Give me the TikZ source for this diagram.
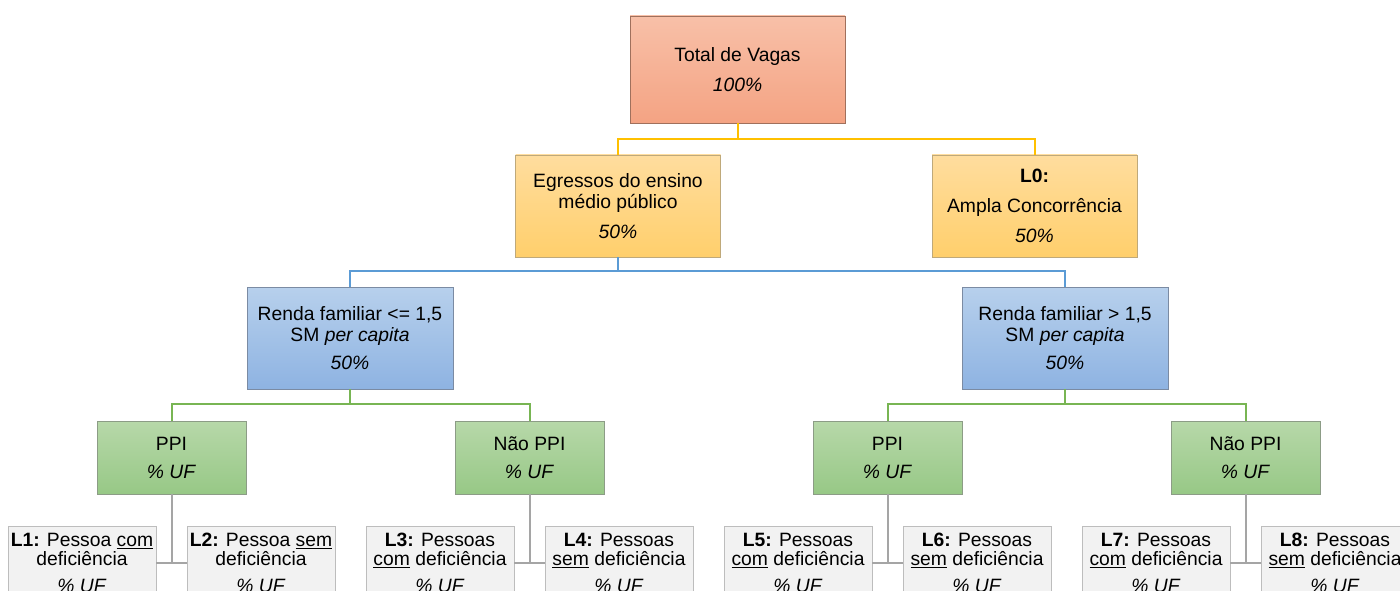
\documentclass[tikz,border=0pt]{standalone}
\usepackage{fontspec}
\setmainfont{Liberation Sans}
\usepackage{xcolor}
\definecolor{totTop}{HTML}{F8C0A8}
\definecolor{totBot}{HTML}{F4A383}
\definecolor{totLine}{HTML}{A0705C}
\definecolor{ylwTop}{HTML}{FFDD9E}
\definecolor{ylwBot}{HTML}{FFCF6C}
\definecolor{ylwLine}{HTML}{BFA97A}
\definecolor{bluTop}{HTML}{B7D0EC}
\definecolor{bluBot}{HTML}{8EB3E2}
\definecolor{bluLine}{HTML}{7B8BA3}
\definecolor{grnTop}{HTML}{B7D8A9}
\definecolor{grnBot}{HTML}{97C886}
\definecolor{grnLine}{HTML}{8C9C86}
\definecolor{leafFill}{HTML}{F2F2F2}
\definecolor{leafLine}{HTML}{BDBDBD}
\definecolor{conYlw}{HTML}{FFC000}
\definecolor{conBlu}{HTML}{5B9BD5}
\definecolor{conGrn}{HTML}{78B553}
\definecolor{conGry}{HTML}{A5A5A5}
\usepackage{tikz}
\usetikzlibrary{positioning, calc}

\begin{document}
\begin{tikzpicture}[
		x=1pt, y=-1pt,
		box/.style={draw, line width=0.8pt, align=center, inner sep=2pt,
			font=\fontsize{19.3}{21}\selectfont},
		totbox/.style={box, minimum width=215pt, minimum height=107pt,
			top color=totTop, bottom color=totBot, draw=totLine},
		ylwbox/.style={box, minimum width=205pt, minimum height=102pt,
			top color=ylwTop, bottom color=ylwBot, draw=ylwLine},
		blubox/.style={box, minimum width=206pt, minimum height=102pt,
			top color=bluTop, bottom color=bluBot, draw=bluLine},
		grnbox/.style={box, minimum width=149pt, minimum height=73pt,
			top color=grnTop, bottom color=grnBot, draw=grnLine},
		leafbox/.style={box, minimum width=148pt, minimum height=74pt,
			inner sep=1pt, fill=leafFill, draw=leafLine},
		con/.style={line width=2pt}
	]
	\clip (0,0) rectangle (1400,591);

	% ===== Level 1 and 2 =====
	\node[totbox] (tot) at (737.5,69.5) {Total de Vagas\\[9pt]\textit{100\%}};
	\node[ylwbox] (egr) at (618,206) {Egressos do ensino\\médio público\\[9pt]\textit{50\%}};
	\node[ylwbox] (amp) at (1034.5,206) {\textbf{L0:}\\[9pt]Ampla Concorrência\\[9pt]\textit{50\%}};
	\draw[con, conYlw] (tot.south) -- ++(0,16) -| (egr.north);
	\draw[con, conYlw] (tot.south) -- ++(0,16) -| (amp.north);

	% ===== Level 3: income =====
	\node[blubox] (rA) at (350,338) {Renda familiar <= 1,5\\SM \textit{per capita}\\[7pt]\textit{50\%}};
	\node[blubox] (rB) at (1065,338) {Renda familiar > 1,5\\SM \textit{per capita}\\[7pt]\textit{50\%}};
	\draw[con, conBlu] (egr.south) -- ++(0,14) -| (rA.north);
	\draw[con, conBlu] (egr.south) -- ++(0,14) -| (rB.north);

	% ===== Level 4: PPI split =====
	\node[grnbox] (pA)  at (171.5,457.5)  {PPI\\[7pt]\textit{\% UF}};
	\node[grnbox] (npA) at (529.5,457.5)  {Não PPI\\[7pt]\textit{\% UF}};
	\node[grnbox] (pB)  at (887.5,457.5)  {PPI\\[7pt]\textit{\% UF}};
	\node[grnbox] (npB) at (1245.5,457.5) {Não PPI\\[7pt]\textit{\% UF}};
	\foreach \r/\a/\b in {rA/pA/npA, rB/pB/npB} {
		\draw[con, conGrn] (\r.south) -- ++(0,15) -| (\a.north);
		\draw[con, conGrn] (\r.south) -- ++(0,15) -| (\b.north);
	}

	% ===== Level 5: the eight quotas =====
	\node[leafbox] (l1) at (82,563)     {\textbf{L1:} Pessoa \underline{com}\\[-2pt]deficiência\\[6pt]\textit{\% UF}};
	\node[leafbox] (l2) at (261,563)    {\textbf{L2:} Pessoa \underline{sem}\\[-2pt]deficiência\\[6pt]\textit{\% UF}};
	\node[leafbox] (l3) at (440,563)    {\textbf{L3:} Pessoas\\[-2pt]\underline{com} deficiência\\[6pt]\textit{\% UF}};
	\node[leafbox] (l4) at (619,563)    {\textbf{L4:} Pessoas\\[-2pt]\underline{sem} deficiência\\[6pt]\textit{\% UF}};
	\node[leafbox] (l5) at (798,563)    {\textbf{L5:} Pessoas\\[-2pt]\underline{com} deficiência\\[6pt]\textit{\% UF}};
	\node[leafbox] (l6) at (977,563)    {\textbf{L6:} Pessoas\\[-2pt]\underline{sem} deficiência\\[6pt]\textit{\% UF}};
	\node[leafbox] (l7) at (1156,563)   {\textbf{L7:} Pessoas\\[-2pt]\underline{com} deficiência\\[6pt]\textit{\% UF}};
	\node[leafbox] (l8) at (1335,563)   {\textbf{L8:} Pessoas\\[-2pt]\underline{sem} deficiência\\[6pt]\textit{\% UF}};
	\foreach \p/\a/\b in {pA/l1/l2, npA/l3/l4, pB/l5/l6, npB/l7/l8} {
		\draw[con, conGry] (\p.south) -- (\p.south |- \a.east);
		\draw[con, conGry] (\a.east) -- (\b.west);
	}
\end{tikzpicture}
\end{document}
